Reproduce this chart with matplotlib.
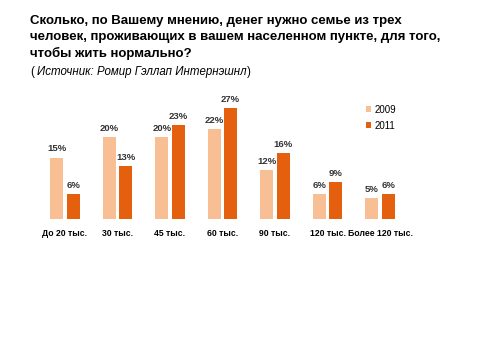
import numpy as np
import matplotlib.pyplot as plt

plt.rcParams['font.family'] = ['Liberation Sans', 'DejaVu Sans']

# Data
categories = ['До 20 тыс.', '30 тыс.', '45 тыс.', '60 тыс.', '90 тыс.', '120 тыс.', 'Более 120 тыс.']
values_2009 = [15, 20, 20, 22, 12, 6, 5]
values_2011 = [6, 13, 23, 27, 16, 9, 6]
series_labels = ['2009', '2011']

title = ('Сколько, по Вашему мнению, денег нужно семье из трех\n'
         'человек, проживающих в вашем населенном пункте, для того,\n'
         'чтобы жить нормально?')
source = 'Источник: Ромир Гэллап Интернэшнл'

color_2009 = '#F8BE94'
color_2011 = '#E4600F'

fig = plt.figure(figsize=(4.79, 3.6), dpi=100)
fig.patch.set_facecolor('white')

fig.text(30 / 479, 1 - 15 / 360, title, ha='left', va='top', fontsize=9.5,
         fontweight='bold', linespacing=1.4, color='black')
fig.text(30 / 479, 1 - 66 / 360, '(', ha='left', va='top', fontsize=8.3, color='black')
src = fig.text(37 / 479, 1 - 66 / 360, source, ha='left', va='top', fontsize=8.3,
               style='italic', color='black')

# closing parenthesis placed right after the italic source text
fig.canvas.draw()
bb = src.get_window_extent()
fig.text(bb.x1 / fig.bbox.width, 1 - 66 / 360, ')', ha='left', va='top',
         fontsize=8.3, color='black')

ax = fig.add_axes([38.75 / 479, 1 - 219 / 360, 367.5 / 479, 123 / 360])

x = np.arange(len(categories))
w = 0.25
gap = 0.03
b1 = ax.bar(x - w / 2 - gap, values_2009, w, color=color_2009, label=series_labels[0])
b2 = ax.bar(x + w / 2 + gap, values_2011, w, color=color_2011, label=series_labels[1])

for bars, vals in ((b1, values_2009), (b2, values_2011)):
    for bar, v in zip(bars, vals):
        ax.text(bar.get_x() + bar.get_width() / 2, v + 1.0, f'{v}%',
                ha='center', va='bottom', fontsize=6.8, fontweight='bold', color='#333333')

ax.set_xlim(-0.5, len(categories) - 0.5)
ax.set_ylim(0, 30)
ax.set_xticks(x)
ax.set_xticklabels(categories, fontsize=6.2, fontweight='bold')
ax.tick_params(axis='x', length=0, pad=7)
ax.set_yticks([])
for s in ax.spines.values():
    s.set_visible(False)

ax.legend(loc='upper left', bbox_to_anchor=(318 / 367.5, 1.0), frameon=False,
          fontsize=7, handlelength=0.6, handleheight=0.6, handletextpad=0.3,
          labelspacing=0.6)

fig.savefig('out.png', dpi=100, facecolor='white')
